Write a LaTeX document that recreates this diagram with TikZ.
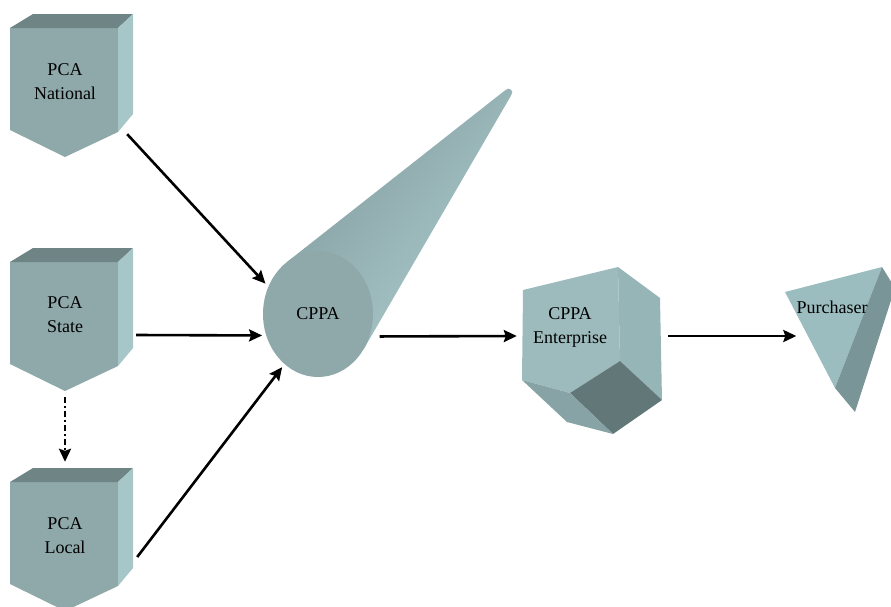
\documentclass[tikz,border=0pt]{standalone}
\usepackage{fontspec}
\setmainfont{Liberation Serif}
\usetikzlibrary{positioning, arrows.meta, shapes.geometric}
\definecolor{facemid}{HTML}{8FA8AA}
\definecolor{facetop}{HTML}{6F8485}
\definecolor{faceside}{HTML}{A7C6C8}
\definecolor{conedark}{HTML}{839C9E}
\definecolor{conelight}{HTML}{ABCBCD}
\definecolor{entfront}{HTML}{9DBBBD}
\definecolor{entside}{HTML}{96B5B7}
\definecolor{entdark}{HTML}{627778}
\definecolor{entlow}{HTML}{87A3A5}
\definecolor{purfront}{HTML}{9CBDBF}
\definecolor{purside}{HTML}{7A9597}
\tikzstyle{arrow} = [line width=2.6pt,->,>={Stealth[length=13pt,width=12pt,inset=2pt]}]
\tikzstyle{dotarrow} = [arrow, dash pattern=on 6pt off 3pt on 2pt off 3pt]
\tikzstyle{blocktext} = [align=center, inner sep=0pt, font=\fontsize{18}{24}\selectfont]
\tikzstyle{pcablock} = [blocktext, minimum width=108pt, minimum height=100pt]
\tikzstyle{cylface} = [blocktext, ellipse, fill=facemid, minimum width=110pt, minimum height=126pt, outer sep=4pt]
% front top-left corner of a PCA block
\newcommand{\pcashape}[1]{
  \begin{scope}[shift={#1}]
    \fill[facemid] (0,0) -- (108,0) -- (108,104) -- (55,129) -- (0,102) -- cycle;
    \fill[facetop] (0,0) -- (23,-14) -- (123,-14) -- (108,0) -- cycle;
    \fill[faceside] (108,0) -- (123,-14) -- (123,86) -- (108,104) -- cycle;
  \end{scope}}

\begin{document}
\begin{tikzpicture}[x=1pt,y=-1pt]
        \useasboundingbox (0,0) rectangle (891,606);
        % PCA blocks
        \pcashape{(10,28)}
        \pcashape{(10,262)}
        \pcashape{(10,482)}
        \node (National) [pcablock] at (65,82) {PCA\\National};
        \node (State) [pcablock] at (65,315) {PCA\\State};
        \node (Local) [pcablock] at (65,536) {PCA\\Local};

        % cylinder
        \shade[top color=conedark, bottom color=conelight, shading angle=49]
            (287.5,261.6) -- (505,90.4) .. controls (509,86) and (515,91) .. (511,95.6)
            -- (364.2,348.2) -- (318,314) -- cycle;
        \node (CPPA) [cylface] at (318,314) {CPPA};

        % enterprise block
        \fill[entfront] (523,290) -- (618,267) -- (620,361) -- (570,393) -- (522,380) -- cycle;
        \fill[entside] (618,267) -- (660,298) -- (662,400) -- (620,361) -- cycle;
        \fill[entdark] (620,361) -- (662,400) -- (613,434) -- (570,393) -- cycle;
        \fill[entlow] (522,380) -- (570,393) -- (613,434) -- (567,422) -- cycle;
        \node (Enterprise) [blocktext, minimum width=100pt] at (570,327) {CPPA\\Enterprise};

        % purchaser
        \fill[purfront] (785,292) -- (882,267) -- (835,388) -- cycle;
        \fill[purside] (882,267) -- (895,288) -- (855,412) -- (835,388) -- cycle;
        \node (Purchaser) [blocktext] at (832,307) {Purchaser};

        \draw [arrow] ([shift={(8,2)}]National.south east) -- (CPPA.150);
        \draw [arrow] ([shift={(17,20)}]State.east) -- (CPPA.201);
        \draw [arrow] ([shift={(18,21)}]Local.east) -- (CPPA.236);
        \draw [dotarrow] ([shift={(0,32)}]State.south) -- ([shift={(0,-24)}]Local.north);
        \draw [arrow] ([shift={(6,0)}]CPPA.-22) -- ([shift={(-3,9)}]Enterprise.west);
        \draw [arrow] ([shift={(48,9)}]Enterprise.east) -- ([yshift=-29pt]Purchaser.west);
\end{tikzpicture}
\end{document}
